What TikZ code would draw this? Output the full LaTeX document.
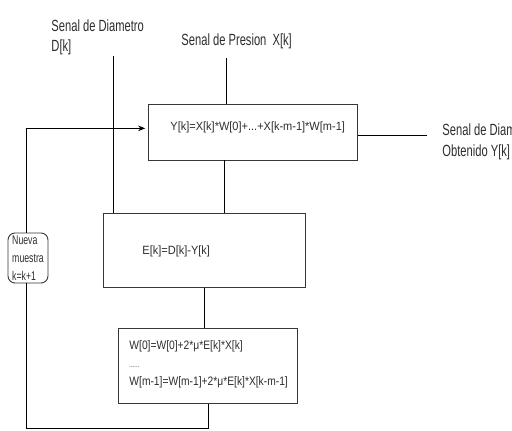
\documentclass[tikz,border=0pt]{standalone}
\usepackage{fontspec}
\setmainfont{Liberation Sans}
\newfontfamily\narrowlbl{Liberation Sans}[FakeStretch=0.69]
\newfontfamily\narrowbox{Liberation Sans}[FakeStretch=0.92]
\newfontfamily\narrowupd{Liberation Sans}[FakeStretch=0.84]
\usepackage{tikz}
\usetikzlibrary{arrows.meta, positioning, calc}
\usepackage{xcolor}
\definecolor{ink}{RGB}{45,45,45}
\definecolor{frame}{RGB}{55,55,55}

\begin{document}
\begin{tikzpicture}[x=0.025cm, y=-0.025cm, line width=0.65pt,
  blk/.style={draw=frame, line width=0.8pt, anchor=north west},
  txt/.style={text=ink, anchor=west, align=left, inner sep=0pt, font=\narrowbox\fontsize{8.5}{12.8}\selectfont},
  lbl/.style={text=ink, anchor=north west, align=left, inner sep=0pt, font=\narrowlbl\fontsize{11.5}{14.5}\selectfont}]
  \useasboundingbox (0,0) rectangle (512,430);
  % boxes
  \node[blk, minimum width=5.225cm, minimum height=1.4cm] (ybox) at (148,104) {};
  \node[blk, minimum width=5.05cm, minimum height=1.85cm] (ebox) at (103,213) {};
  \node[blk, minimum width=4.475cm, minimum height=1.875cm] (wbox) at (118,328) {};
  \node[draw=frame, rounded corners=5pt, text=ink, minimum width=1.0cm, minimum height=1.25cm, inner sep=0.5pt, align=left, font=\narrowlbl\fontsize{9}{12.8}\selectfont] (nueva) at (28,258) {Nueva\\muestra\\k=k+1};
  % box texts
  \node[txt] (ytxt) at (170,127) {Y[k]=X[k]*W[0]+...+X[k-m-1]*W[m-1]};
  \node[txt] (etxt) at (142,251) {E[k]=D[k]-Y[k]};
  \node[txt, font=\narrowupd\fontsize{8.7}{12.8}\selectfont] (wtxt) at (129,364) {W[0]=W[0]+2*μ*E[k]*X[k]\\{\tiny......}\\W[m-1]=W[m-1]+2*μ*E[k]*X[k-m-1]};
  % labels
  \node[lbl] (dlbl) at (51,19) {Senal de Diametro\\D[k]};
  \node[lbl] (xlbl) at (181,33) {Senal de Presion~ X[k]};
  \node[lbl, font=\narrowlbl\fontsize{11.5}{15.5}\selectfont] (ylbl) at (442,123) {Senal de Diametro\\Obtenido Y[k]};
  % inputs
  \coordinate (din) at (113,56);
  \coordinate (xin) at (226,58);
  \draw (din) -- (din |- ebox.north);
  \draw (xin) -- (xin |- ybox.north);
  % Y to E to W
  \coordinate (ydown) at (224,160);
  \draw (ydown) -- (ydown |- ebox.north);
  \draw (ebox.south) -- (ebox.south |- wbox.north);
  % output
  \coordinate (yout) at (427,135);
  \draw (ybox.east |- yout) -- (yout);
  % feedback
  \coordinate (fb) at (26,428);
  \draw (wbox.south) |- (fb) -- (fb |- nueva.south);
  \draw[-{Stealth[length=5pt,width=4pt]}] (fb |- nueva.north) |- ([xshift=-2pt,yshift=3pt]ybox.west);
\end{tikzpicture}
\end{document}
